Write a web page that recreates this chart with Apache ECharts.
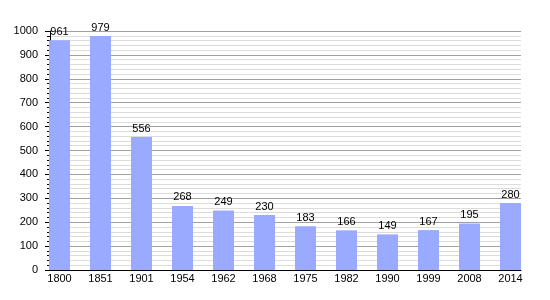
<!DOCTYPE html>
<html><head><meta charset="utf-8">
<script src="https://cdn.jsdelivr.net/npm/echarts@6/dist/echarts.min.js"></script>
<style>html,body{margin:0;padding:0;background:#fff}#c{width:550px;height:300px}</style>
</head><body><div id="c"></div>
<script>
var categories = ['1800','1851','1901','1954','1962','1968','1975','1982','1990','1999','2008','2014'];
var population = [961, 979, 556, 268, 249, 230, 183, 166, 149, 167, 195, 280];
var yTicks = [0,100,200,300,400,500,600,700,800,900,1000];

var font = 'Liberation Sans, Arial, sans-serif';
var chart = echarts.init(document.getElementById('c'), null, {renderer:'canvas'});
chart.setOption({
  animation: false,
  backgroundColor: '#fff',
  grid: [
    {left: 50, right: 29, top: 31, bottom: 30},
    {left: 39, right: 19, top: 31, bottom: 30}
  ],
  xAxis: [
    {gridIndex: 0, type: 'value', min: 0, max: 1, show: true,
     axisLine: {show: true, onZero: false, lineStyle: {color: '#000', width: 1}},
     axisTick: {show: false}, axisLabel: {show: false}, splitLine: {show: false}},
    {gridIndex: 1, type: 'category', data: categories,
     axisLine: {show: false}, axisTick: {show: false},
     axisLabel: {color: '#000', fontSize: 11, fontFamily: font, margin: 3}}
  ],
  yAxis: [
    {gridIndex: 0, type: 'value', min: yTicks[0], max: yTicks[yTicks.length-1], interval: 100,
     axisLine: {show: true, lineStyle: {color: '#000', width: 1}},
     axisTick: {show: true, length: 5, lineStyle: {color: '#000'}},
     minorTick: {show: true, splitNumber: 5, length: 3, lineStyle: {color: '#000'}},
     axisLabel: {color: '#000', fontSize: 11, fontFamily: font, margin: 12,
       formatter: function (v) { return String(v); }},
     splitLine: {show: true, lineStyle: {color: '#a0a0a0', width: 1}},
     minorSplitLine: {show: true, lineStyle: {color: '#dcdcdc', width: 1}}},
    {gridIndex: 1, type: 'value', min: yTicks[0], max: yTicks[yTicks.length-1], show: false}
  ],
  series: [{
    type: 'bar', xAxisIndex: 1, yAxisIndex: 1,
    data: population, barWidth: 21,
    itemStyle: {color: '#99aaff'},
    label: {show: true, position: 'top', distance: 3, color: '#000', fontSize: 11, fontFamily: font}
  }]
});
</script></body></html>
